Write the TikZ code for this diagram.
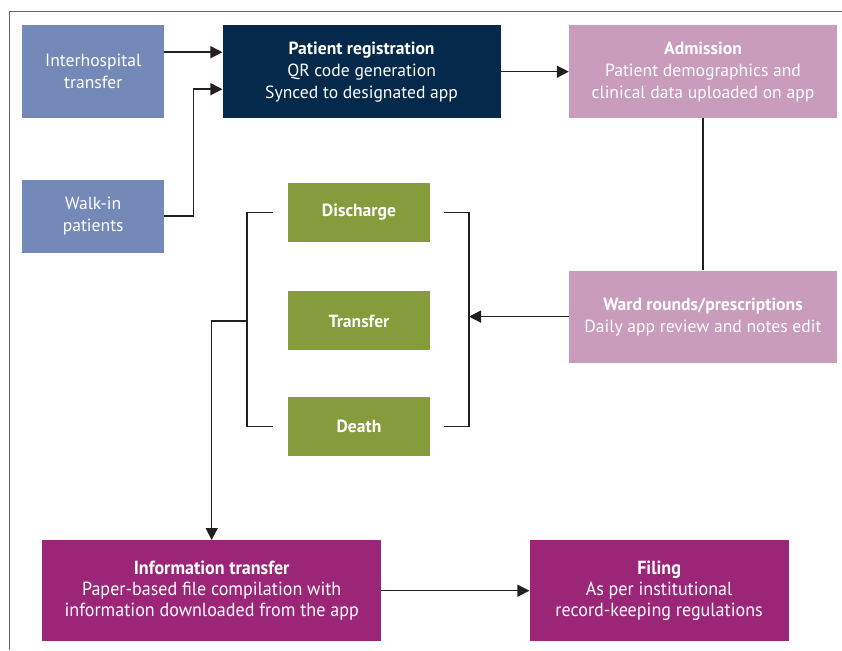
\documentclass[tikz,border=0pt]{standalone}
\usepackage{fontspec}
\setmainfont{PT Sans}
\newfontfamily\condfont[FakeStretch=0.95]{PT Sans}
\definecolor{entryBlue}{HTML}{7489B8}
\definecolor{regNavy}{HTML}{05294B}
\definecolor{wardPink}{HTML}{C89CBA}
\definecolor{outGreen}{HTML}{869B3C}
\definecolor{filePurple}{HTML}{9B2577}
\definecolor{lineGrey}{HTML}{231F20}
\usetikzlibrary{positioning,arrows.meta}

\begin{document}
\begin{tikzpicture}[
                x=1pt, y=-1pt,
                stagebox/.style={text=white, align=center, inner sep=4pt,
                                 font=\fontsize{17.6}{22}\selectfont},
                entrybox/.style={stagebox, fill=entryBlue, minimum width=142pt},
                outbox/.style={stagebox, fill=outGreen, minimum width=142pt, minimum height=59pt,
                               font=\fontsize{17.6}{22}\selectfont\bfseries},
                filebox/.style={stagebox, fill=filePurple, minimum height=101pt,
                                font=\condfont\fontsize{19}{21}\selectfont},
                link/.style={line width=1.4pt, color=lineGrey},
                arrow/.style={link, -{Triangle[length=12pt,width=12pt]}}
            ]
                \useasboundingbox (0,0) rectangle (842,650);
                % outer frame (only top and left edges show)
                \draw[line width=1pt, black!60] (9,650) -- (9,12) -- (842,12);

                \node[entrybox, minimum height=93pt, anchor=north west] (inter) at (22,25)
                      {Interhospital\\transfer};
                \node[entrybox, minimum height=73pt, below=61pt of inter] (walkin)
                      {Walk-in\\patients};

                \node[stagebox, fill=regNavy, minimum width=278pt, minimum height=93pt,
                      right=58pt of inter] (reg)
                      {\textbf{Patient registration}\\QR code generation\\Synced to designated app};
                \node[stagebox, fill=wardPink, minimum width=268pt, minimum height=93pt,
                      right=68pt of reg] (adm)
                      {\textbf{Admission}\\Patient demographics and\\clinical data uploaded on app};
                \node[stagebox, fill=wardPink, minimum width=268pt, minimum height=92pt,
                      below=152pt of adm] (ward)
                      {\textbf{Ward rounds/prescriptions}\\Daily app review and notes edit};

                \node[outbox] (dis) at (359,212.5) {Discharge};
                \node[outbox, below=49pt of dis] (tr) {Transfer};
                \node[outbox, below=46pt of tr] (death) {Death};

                \node[filebox, minimum width=339pt, anchor=north west] (info) at (42,540)
                      {\textbf{Information transfer}\\Paper-based file compilation with\\information downloaded from the app};
                \node[filebox, minimum width=259pt, right=148pt of info] (filing)
                      {\textbf{Filing}\\As per institutional\\record-keeping regulations};

                % bracket lines round the outcomes
                \coordinate (lb) at (247,0);
                \coordinate (rb) at (469,0);

                \draw[arrow] ([yshift=19.5pt]inter.east) -- ([yshift=19.5pt]reg.west);
                \draw[arrow] (walkin.east) -- ++(29pt,0) |- ([yshift=-17.5pt]reg.west);
                \draw[arrow] (reg) -- (adm);
                \draw[link] (adm) -- (ward);
                \draw[arrow] (ward.west) -- (rb |- ward.west);
                \draw[link] ([xshift=14pt]dis.east) -| (rb |- death.east) -- ([xshift=14pt]death.east);
                \draw[link] ([xshift=-15pt]dis.west) -| (lb |- death.west) -- ([xshift=-15pt]death.west);
                \draw[arrow] (lb |- tr.west) -| (info.north);
                \draw[arrow] (info) -- (filing);

            \end{tikzpicture}
\end{document}
